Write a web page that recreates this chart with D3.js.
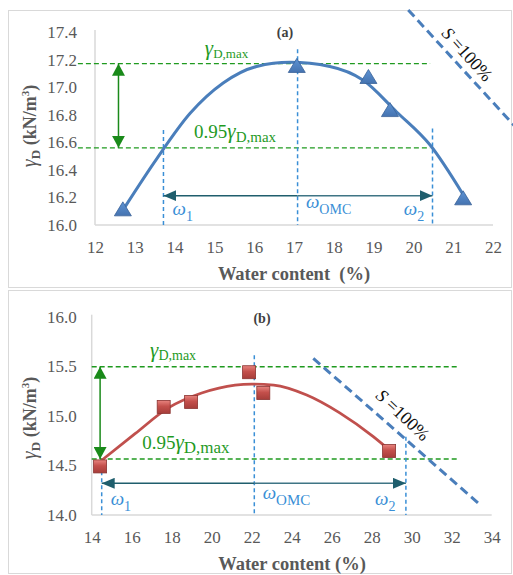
<!DOCTYPE html>
<html>
<head>
<meta charset="utf-8">
<script src="https://cdn.jsdelivr.net/npm/d3@7"></script>
<style>
  body { margin: 0; background: #fff; }
</style>
</head>
<body>
<div id="chart"></div>
<script>
// ---- Panel (a) data ----
const xTicksA = [12, 13, 14, 15, 16, 17, 18, 19, 20, 21, 22];
const yTicksA = [16.0, 16.2, 16.4, 16.6, 16.8, 17.0, 17.2, 17.4];
const wPointsA = [12.70, 17.07, 18.87, 19.41, 21.25];
const gPointsA = [16.11, 17.15, 17.07, 16.83, 16.19];
const wCurveA = [12.75, 13.55, 14.39, 15.22, 16.06, 16.90, 17.90, 18.74, 19.58, 20.42, 21.25];
const gCurveA = [16.13, 16.48, 16.81, 17.03, 17.15, 17.18, 17.15, 17.05, 16.82, 16.58, 16.22];
const refA = { gMax: 17.17, g95: 16.56, w1: 13.72, wOmc: 17.09, w2: 20.48 };
const satLineA = [[19.87, 17.56], [22.6, 16.70]];

// ---- Panel (b) data ----
const xTicksB = [14, 16, 18, 20, 22, 24, 26, 28, 30, 32, 34];
const yTicksB = [14.0, 14.5, 15.0, 15.5, 16.0];
const wPointsB = [14.42, 17.60, 18.97, 21.87, 22.58, 28.87];
const gPointsB = [14.49, 15.09, 15.14, 15.44, 15.23, 14.645];
const wCurveB = [14.55, 16.17, 17.83, 19.50, 21.17, 22.00, 23.10, 24.75, 26.40, 28.08, 28.80];
const gCurveB = [14.56, 14.82, 15.08, 15.23, 15.31, 15.32, 15.31, 15.21, 15.03, 14.79, 14.67];
const refB = { gMax: 15.495, g95: 14.565, w1: 14.50, wOmc: 22.13, w2: 29.71 };
const satLineB = [[25.08, 15.58], [33.33, 14.12]];

const width = 513, height = 575;
const FONT = '"Liberation Serif"';
const greenDash = "#1f9a1f", greenArrow = "#1a8a1a", blueDash = "#3a8fd6", teal = "#1f5e6d";

const svg = d3.select("#chart")
    .append("svg")
    .attr("width", width)
    .attr("height", height);

// gradients for markers
const defs = svg.append("defs");
const triGrad = defs.append("linearGradient").attr("id", "triGrad").attr("x1", 0).attr("x2", 0).attr("y1", 0).attr("y2", 1);
triGrad.append("stop").attr("offset", "0%").attr("stop-color", "#5d93d4");
triGrad.append("stop").attr("offset", "100%").attr("stop-color", "#4573b0");
const sqGrad = defs.append("linearGradient").attr("id", "sqGrad").attr("x1", 0).attr("x2", 0).attr("y1", 0).attr("y2", 1);
sqGrad.append("stop").attr("offset", "0%").attr("stop-color", "#e8847f");
sqGrad.append("stop").attr("offset", "45%").attr("stop-color", "#c4504c");
sqGrad.append("stop").attr("offset", "100%").attr("stop-color", "#a63d3a");

// arrow heads
const addMarker = (id, color, w, h) => {
    defs.append("marker")
        .attr("id", id)
        .attr("viewBox", `0 ${-h / 2} ${w} ${h}`)
        .attr("refX", w)
        .attr("refY", 0)
        .attr("markerUnits", "userSpaceOnUse")
        .attr("markerWidth", w)
        .attr("markerHeight", h)
        .attr("orient", "auto-start-reverse")
        .append("path")
        .attr("d", `M0,${-h / 2}L${w},0L0,${h / 2}Z`)
        .attr("fill", color);
};
addMarker("tealHead", teal, 13, 11);
addMarker("greenHead", greenArrow, 12, 13);

// panel frames
svg.append("rect").attr("x", 8.5).attr("y", 10.5).attr("width", 503).attr("height", 277)
    .attr("fill", "none").attr("stroke", "#d9d9d9");
svg.append("rect").attr("x", 8.5).attr("y", 290.5).attr("width", 503).attr("height", 283)
    .attr("fill", "none").attr("stroke", "#d9d9d9");

// text with subscript helper
const subText = (g, x, y, parts, color) => {
    const t = g.append("text").attr("x", x).attr("y", y).attr("fill", color)
        .style("font-family", FONT);
    parts.forEach(p => {
        t.append("tspan")
            .text(p.t)
            .attr("dy", p.dy || 0)
            .style("font-family", FONT)
            .style("font-size", p.size + "px")
            .style("font-style", p.italic ? "italic" : "normal")
            .style("font-weight", p.bold ? "bold" : "normal");
    });
    return t;
};

const drawPanel = (cfg) => {
    const { x, y } = cfg;
    const g = svg.append("g");

    // axis lines
    g.append("line")
        .attr("x1", x.range()[0]).attr("x2", x.range()[0])
        .attr("y1", y.range()[1] - 2).attr("y2", y.range()[0])
        .attr("stroke", "#d9d9d9").attr("stroke-width", 1.5);
    g.append("line")
        .attr("x1", x.range()[0]).attr("x2", x.range()[1])
        .attr("y1", y.range()[0]).attr("y2", y.range()[0])
        .attr("stroke", "#d9d9d9").attr("stroke-width", 1.5);

    // tick labels
    const yAxis = g.append("g")
        .attr("transform", `translate(${x.range()[0]},0)`)
        .call(d3.axisLeft(y).tickValues(cfg.yTicks).tickFormat(d3.format(".1f")).tickSize(0).tickPadding(cfg.yPad));
    const xAxis = g.append("g")
        .attr("transform", `translate(0,${y.range()[0]})`)
        .call(d3.axisBottom(x).tickValues(cfg.xTicks).tickSize(0).tickPadding(16));
    [xAxis, yAxis].forEach(a => {
        a.select(".domain").remove();
        a.attr("font-family", null).attr("font-size", null);
        a.selectAll("text").attr("fill", "#595959")
            .style("font-family", FONT).style("font-size", "17px");
    });

    // green reference lines
    [cfg.ref.gMax, cfg.ref.g95].forEach(v => {
        g.append("line")
            .attr("x1", x(cfg.greenExtent[0])).attr("x2", x(cfg.greenExtent[1]))
            .attr("y1", y(v)).attr("y2", y(v))
            .attr("stroke", greenDash).attr("stroke-width", 1.3)
            .attr("stroke-dasharray", "5,3");
    });

    // blue vertical dashed lines
    [[cfg.ref.w1, cfg.vTops[0]], [cfg.ref.wOmc, cfg.vTops[1]], [cfg.ref.w2, cfg.vTops[2]]].forEach(([w, top]) => {
        g.append("line")
            .attr("x1", x(w)).attr("x2", x(w))
            .attr("y1", y(top)).attr("y2", y.range()[0])
            .attr("stroke", blueDash).attr("stroke-width", 1.5)
            .attr("stroke-dasharray", "4,3");
    });

    // horizontal arrows from omc to w1 / w2
    g.append("line")
        .attr("x1", x(cfg.ref.wOmc)).attr("x2", x(cfg.ref.w1))
        .attr("y1", y(cfg.arrowY)).attr("y2", y(cfg.arrowY))
        .attr("stroke", teal).attr("stroke-width", 1.5)
        .attr("marker-end", "url(#tealHead)");
    g.append("line")
        .attr("x1", x(cfg.ref.wOmc)).attr("x2", x(cfg.ref.w2))
        .attr("y1", y(cfg.arrowY)).attr("y2", y(cfg.arrowY))
        .attr("stroke", "#3f7585").attr("stroke-width", 1.5)
        .attr("marker-end", "url(#tealHead)");

    // vertical green double arrow
    g.append("line")
        .attr("x1", x(cfg.greenArrowX)).attr("x2", x(cfg.greenArrowX))
        .attr("y1", y(cfg.ref.gMax)).attr("y2", y(cfg.ref.g95))
        .attr("stroke", greenArrow).attr("stroke-width", 1.5)
        .attr("marker-start", "url(#greenHead)")
        .attr("marker-end", "url(#greenHead)");

    // fitted curve
    const line = d3.line().x(d => x(d[0])).y(d => y(d[1])).curve(d3.curveMonotoneX);
    g.append("path")
        .attr("d", line(cfg.wCurve.map((w, i) => [w, cfg.gCurve[i]])))
        .attr("fill", "none")
        .attr("stroke", cfg.curveColor)
        .attr("stroke-width", cfg.curveWidth)
        .attr("stroke-linecap", "round");

    // markers
    const pts = cfg.wPoints.map((w, i) => [w, cfg.gPoints[i]]);
    if (cfg.marker === "triangle") {
        g.selectAll(".tri").data(pts).join("path")
            .attr("transform", d => `translate(${x(d[0])},${y(d[1])})`)
            .attr("d", "M0,-8L8.5,6L-8.5,6Z")
            .attr("fill", "url(#triGrad)")
            .attr("stroke", "#3a6298").attr("stroke-width", 0.8);
    } else {
        g.selectAll(".sq").data(pts).join("rect")
            .attr("x", d => x(d[0]) - 6.5)
            .attr("y", d => y(d[1]) - 6.5)
            .attr("width", 13).attr("height", 13)
            .attr("fill", "url(#sqGrad)")
            .attr("stroke", "#8a3431").attr("stroke-width", 0.8);
    }

    // saturation line
    g.append("line")
        .attr("x1", x(cfg.satLine[0][0])).attr("y1", y(cfg.satLine[0][1]))
        .attr("x2", x(cfg.satLine[1][0])).attr("y2", y(cfg.satLine[1][1]))
        .attr("stroke", "#4a7ebb").attr("stroke-width", 3)
        .attr("stroke-dasharray", "9,5");

    const sl = g.append("text")
        .attr("transform", `translate(${x(cfg.satLabel[0])},${y(cfg.satLabel[1])}) rotate(${cfg.satAngle})`)
        .attr("text-anchor", "middle")
        .attr("dy", "0.35em")
        .attr("fill", "#111")
        .style("font-family", FONT)
        .style("font-size", "18px");
    sl.append("tspan").text("S").style("font-style", "italic").style("font-family", FONT);
    sl.append("tspan").text(" =100%").style("font-family", FONT);

    // annotation labels
    const L = cfg.labels;
    subText(g, x(L.gMax[0]), y(L.gMax[1]), [
        { t: "γ", size: 21, italic: true },
        { t: "D,max", size: cfg.subSize1, dy: 3 }
    ], greenDash);
    subText(g, x(L.g95[0]), y(L.g95[1]), [
        { t: "0.95", size: 19 },
        { t: "γ", size: 21, italic: true },
        { t: "D,max", size: cfg.subSize2, dy: 4 }
    ], greenDash);
    subText(g, x(L.w1[0]), y(L.w1[1]), [
        { t: "ω", size: 19, italic: true },
        { t: "1", size: 14, dy: 6 }
    ], blueDash);
    subText(g, x(L.wOmc[0]), y(L.wOmc[1]), [
        { t: "ω", size: 19, italic: true },
        { t: "OMC", size: cfg.omcSize, dy: 6 }
    ], blueDash);
    subText(g, x(L.w2[0]), y(L.w2[1]), [
        { t: "ω", size: 19, italic: true },
        { t: "2", size: 14, dy: 6 }
    ], blueDash);

    // panel tag
    g.append("text")
        .attr("x", cfg.tag[0]).attr("y", cfg.tag[1])
        .attr("text-anchor", "middle")
        .attr("fill", "#404040")
        .style("font-family", FONT)
        .style("font-size", "14px").style("font-weight", "bold")
        .text(cfg.tagText);

    // x axis title
    g.append("text")
        .attr("x", cfg.xTitle[0]).attr("y", cfg.xTitle[1])
        .attr("text-anchor", "middle")
        .attr("fill", "#595959")
        .style("font-family", FONT)
        .style("font-size", "18.5px").style("font-weight", "bold")
        .style("white-space", "pre")
        .text(cfg.xTitleText);

    // y axis title
    const yt = g.append("text")
        .attr("transform", `translate(${cfg.yTitle[0]},${cfg.yTitle[1]}) rotate(-90)`)
        .attr("text-anchor", "middle")
        .attr("fill", "#595959")
        .style("font-family", FONT);
    const yParts = [
        ["γ", 20, "italic", "normal", 0],
        ["D", 13, "normal", "bold", 4],
        [" (kN/m", 18, "normal", "bold", -4],
        ["3", 11, "normal", "bold", -7],
        [")", 18, "normal", "bold", 7]
    ];
    yParts.forEach(([t, s, st, w, dy]) => {
        yt.append("tspan").text(t).attr("dy", dy)
            .style("font-family", FONT).style("font-size", s + "px")
            .style("font-style", st).style("font-weight", w);
    });
};

drawPanel({
    x: d3.scaleLinear().domain([12, 22]).range([95, 493]),
    y: d3.scaleLinear().domain([16, 17.4]).range([225, 32]),
    xTicks: xTicksA, yTicks: yTicksA, yPad: 18,
    wPoints: wPointsA, gPoints: gPointsA,
    wCurve: wCurveA, gCurve: gCurveA,
    curveColor: "#4a7ebb", curveWidth: 3,
    marker: "triangle",
    ref: refA,
    greenExtent: [11.57, 20.42],
    vTops: [16.69, 17.275, 16.70],
    arrowY: 16.213,
    greenArrowX: 12.59,
    satLine: satLineA, satLabel: [21.36, 17.24], satAngle: 48,
    labels: {
        gMax: [14.76, 17.233], g95: [14.49, 16.63],
        w1: [13.95, 16.07], wOmc: [17.3, 16.12], w2: [19.76, 16.07]
    },
    subSize1: 13, subSize2: 15, omcSize: 14,
    tag: [285, 37], tagText: "(a)",
    xTitle: [294, 280], xTitleText: "Water content  (%)",
    yTitle: [36, 126]
});

drawPanel({
    x: d3.scaleLinear().domain([14, 34]).range([91.7, 491.7]),
    y: d3.scaleLinear().domain([14, 16]).range([515, 316.7]),
    xTicks: xTicksB, yTicks: yTicksB, yPad: 15,
    wPoints: wPointsB, gPoints: gPointsB,
    wCurve: wCurveB, gCurve: gCurveB,
    curveColor: "#c0504d", curveWidth: 2.8,
    marker: "square",
    ref: refB,
    greenExtent: [14.0, 32.4],
    vTops: [14.44, 15.61, 14.79],
    arrowY: 14.32,
    greenArrowX: 14.42,
    satLine: satLineB, satLabel: [29.57, 15.01], satAngle: 43,
    labels: {
        gMax: [16.92, 15.59], g95: [16.53, 14.67],
        w1: [14.95, 14.10], wOmc: [22.55, 14.16], w2: [28.17, 14.10]
    },
    subSize1: 14, subSize2: 17, omcSize: 15,
    tag: [262, 323], tagText: "(b)",
    xTitle: [292, 570], xTitleText: "Water content (%)",
    yTitle: [36, 418]
});
</script>
</body>
</html>
